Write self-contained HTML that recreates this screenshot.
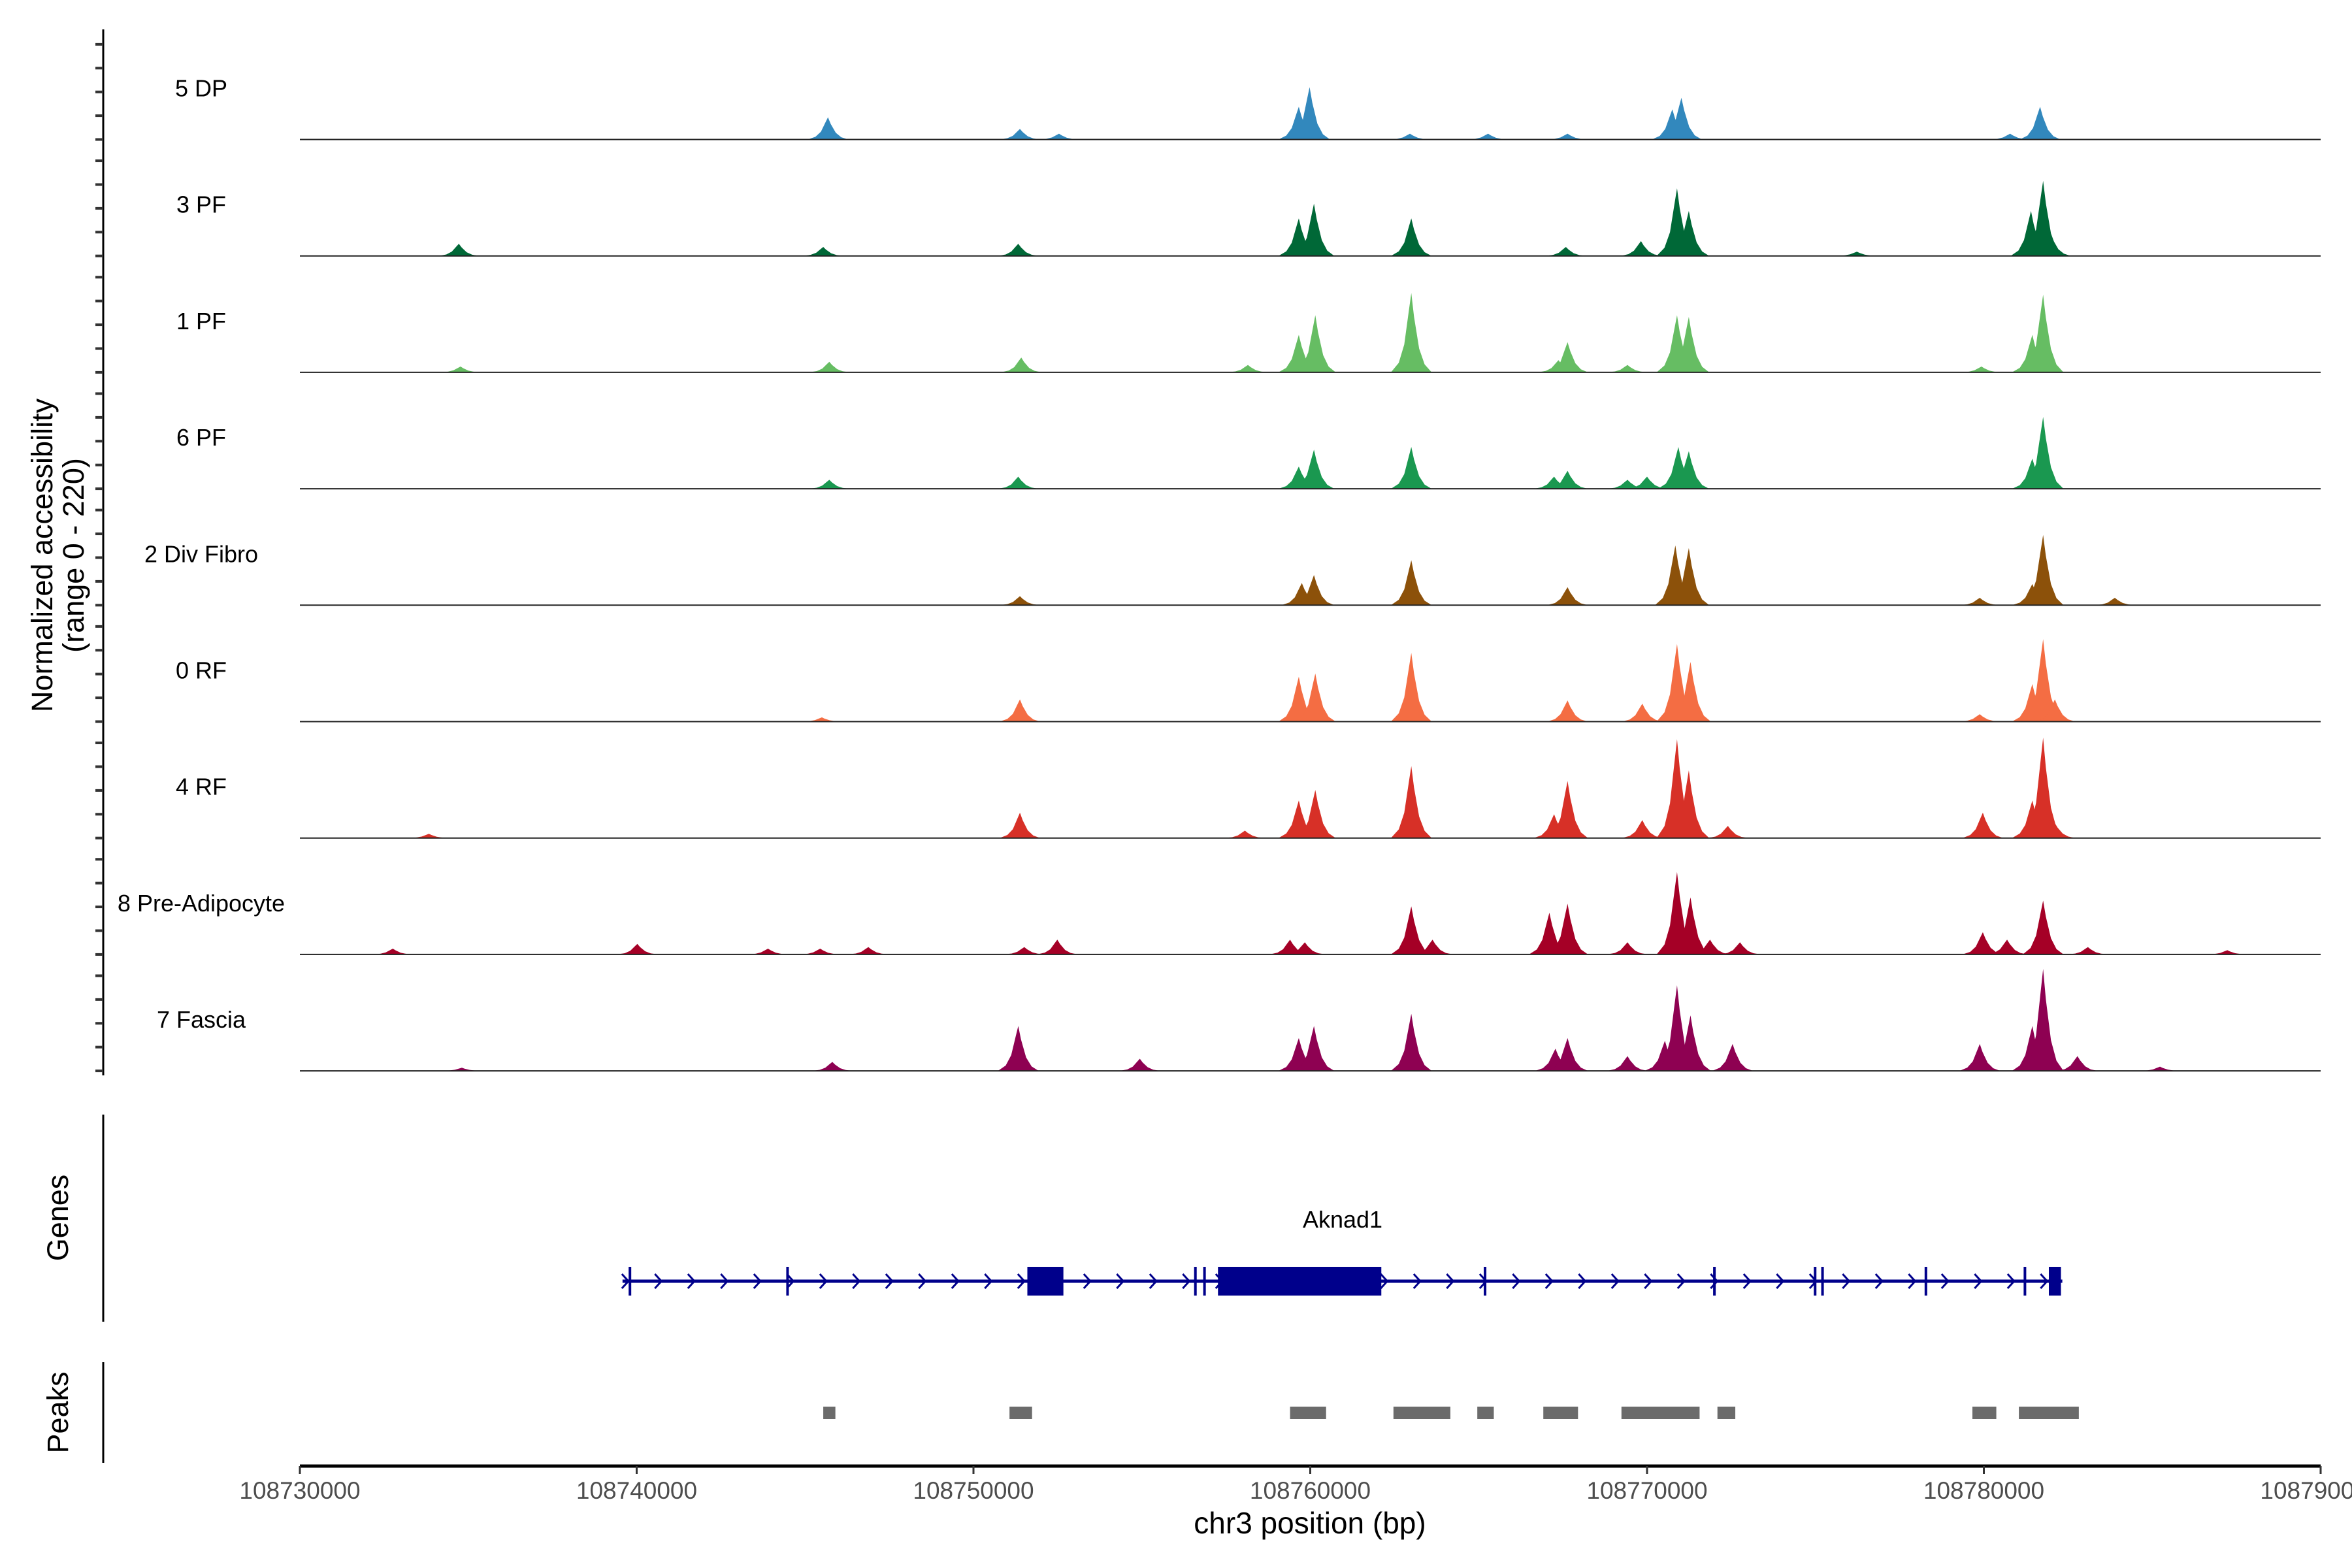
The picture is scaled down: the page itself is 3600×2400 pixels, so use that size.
<!DOCTYPE html>
<html><head><meta charset="utf-8">
<style>
html,body{margin:0;padding:0;background:#fff;}
svg{display:block;font-family:"Liberation Sans",Arial,sans-serif;}
</style></head>
<body>
<svg id="chart" width="3600" height="2400" viewBox="0 0 3600 2400" xmlns="http://www.w3.org/2000/svg"></svg>
<script>
// region offsets in kb relative to 108730000
const regionStartBp = 108730000;
const regionEndBp = 108790000;
const xTickValues = [108730000,108740000,108750000,108760000,108770000,108780000,108790000];
const yTickValues = [0,45,90,135,180];
const trackNames = ["5 DP","3 PF","1 PF","6 PF","2 Div Fibro","0 RF","4 RF","8 Pre-Adipocyte","7 Fascia"];
const trackColors = ["#3288bd","#006837","#66bd63","#1a9850","#8c510a","#f46d43","#d73027","#a50026","#8e0152"];
const peaksDP = [[15.68,42],[21.38,20],[22.54,11],[29.66,62],[29.98,99],[32.96,11],[35.28,11],[37.64,11],[40.75,57],[41.02,79],[50.78,11],[51.67,62]];
const peaks3PF = [[4.72,23],[15.54,17],[21.33,23],[29.66,71],[30.11,99],[33.0,71],[37.59,17],[39.82,28],[40.89,128],[41.24,85],[46.23,8],[51.4,85],[51.76,142],[51.98,42]];
const peaks1PF = [[4.77,11],[15.72,20],[21.42,28],[28.15,14],[29.66,71],[30.15,108],[33.0,150],[37.37,23],[37.64,57],[39.42,14],[40.89,108],[41.24,105],[49.93,11],[51.44,71],[51.76,147]];
const peaks6PF = [[15.72,17],[21.33,23],[29.66,42],[30.11,74],[33.0,79],[37.24,23],[37.64,34],[39.42,17],[40.0,23],[40.93,79],[41.24,71],[51.44,57],[51.76,136]];
const peaksDiv = [[21.38,17],[29.75,42],[30.11,57],[33.0,85],[37.64,34],[40.84,113],[41.24,108],[49.88,14],[51.44,40],[51.76,133],[53.89,14]];
const peaks0RF = [[15.5,8],[21.38,42],[29.66,85],[30.15,91],[33.0,130],[37.64,40],[39.86,34],[40.89,147],[41.29,113],[49.88,14],[51.44,71],[51.76,156],[52.11,42]];
const peaks4RF = [[3.83,8],[21.38,48],[28.06,14],[29.66,71],[30.15,91],[33.0,136],[37.24,45],[37.64,108],[39.86,34],[40.89,187],[41.24,128],[42.4,23],[49.97,48],[51.44,71],[51.76,190],[52.11,28]];
const peaksPre = [[2.76,11],[10.02,20],[13.9,11],[15.45,11],[16.88,14],[21.51,14],[22.49,28],[29.4,28],[29.84,23],[33.0,91],[33.63,28],[37.1,79],[37.64,96],[39.42,23],[40.89,156],[41.29,108],[41.87,28],[42.76,23],[49.97,42],[50.69,28],[51.76,102],[53.09,14],[57.23,8]];
const peaksFas = [[4.81,6],[15.81,17],[21.33,85],[24.94,23],[29.66,62],[30.11,85],[33.0,108],[37.28,42],[37.64,62],[39.42,28],[40.53,57],[40.89,162],[41.29,105],[42.54,51],[49.88,51],[51.44,85],[51.76,193],[52.78,28],[55.23,8]];
const trackPeaks = [peaksDP,peaks3PF,peaks1PF,peaks6PF,peaksDiv,peaks0RF,peaks4RF,peaksPre,peaksFas];
const geneSpan = [9.58,52.33];
const geneThinExons = [9.80,14.48,26.59,26.86,35.19,42.0,44.99,45.21,48.28,51.22];
const geneThickExons = [[21.6,22.67],[27.26,32.11],[51.93,52.29]];
const peakRegions = [[15.54,15.9],[21.07,21.74],[29.4,30.47],[32.47,34.16],[34.96,35.45],[36.92,37.95],[39.24,41.56],[42.09,42.62],[49.66,50.37],[51.04,52.82]];

const NS="http://www.w3.org/2000/svg";
const svg=document.getElementById('chart');
const X0=459,X1=3552;
function xBp(bp){return X0+(bp-regionStartBp)/(regionEndBp-regionStartBp)*(X1-X0);}
function xKb(kb){return xBp(regionStartBp+kb*1000);}
const base0=213.5, trackStep=178.2, trackH=178;
function yVal(i,v){return base0+i*trackStep - v/220*trackH;}
function mk(tag,attrs,parent){const e=document.createElementNS(NS,tag);for(const k in attrs)e.setAttribute(k,attrs[k]);(parent||svg).appendChild(e);return e;}

// left axis
let ax=mk('line',{x1:158,y1:45,x2:158,y2:1646,stroke:'#000','stroke-width':3});


trackNames.forEach((nm,i)=>{
  yTickValues.forEach(v=>{
    const y=yVal(i,v);
    const t=mk('line',{x1:146,y1:y,x2:158,y2:y,stroke:'#333','stroke-width':4});
    
    
  });
});
let yt=mk('text',{transform:'translate(80,850) rotate(-90)','text-anchor':'middle','font-size':45,fill:'#000'});
yt.textContent='Normalized accessibility';


let yt2=mk('text',{transform:'translate(128,850) rotate(-90)','text-anchor':'middle','font-size':45,fill:'#000'});
yt2.textContent='(range 0 - 220)';



// tracks
trackNames.forEach((nm,i)=>{
  const g=mk('g',{});
  
  
  const by=base0+i*trackStep;
  trackPeaks[i].forEach(p=>{
    const c=xKb(p[0]), h=yVal(i,p[1]), H=by-h, w=12;
    const pts=[[c-w*2.6,by],[c-w*1.6,by-H*0.12],[c-w*0.9,by-H*0.35],[c-w*0.35,by-H*0.75],[c,h],[c+w*0.35,by-H*0.7],[c+w*1.0,by-H*0.3],[c+w*1.7,by-H*0.1],[c+w*2.6,by]];
    const pg=mk('polygon',{points:pts.map(q=>q.join(',')).join(' '),fill:trackColors[i]},g);
    
    
  });
  const bl=mk('line',{x1:X0,y1:by,x2:X1,y2:by,stroke:'#222','stroke-width':2},g);
  
  
  const lb=mk('text',{x:308,y:by-66,'text-anchor':'middle','font-size':36,fill:'#000'},g);
  lb.textContent=nm;
  
  
});

// genes panel
let ga=mk('line',{x1:158,y1:1706,x2:158,y2:2023,stroke:'#000','stroke-width':3});


let gt=mk('text',{transform:'translate(104,1864) rotate(-90)','text-anchor':'middle','font-size':45,fill:'#000'});
gt.textContent='Genes';


const GY=1961, gc='#00008b';
const gg=mk('g',{});


mk('line',{x1:xKb(geneSpan[0]),y1:GY,x2:xKb(geneSpan[1]),y2:GY,stroke:gc,'stroke-width':5},gg);
for(let x=xKb(geneSpan[0])+4;x<xKb(geneSpan[1]);x+=50.5){
  const ch=mk('polyline',{points:`${x-5},${GY-11} ${x+5},${GY} ${x-5},${GY+11}`,fill:'none',stroke:gc,'stroke-width':3},gg);
  
  
}
geneThinExons.forEach(e=>{
  const r=mk('rect',{x:xKb(e)-2,y:GY-22,width:4,height:44,fill:gc},gg);
  
  
});
geneThickExons.forEach(e=>{
  const r=mk('rect',{x:xKb(e[0]),y:GY-22,width:xKb(e[1])-xKb(e[0]),height:44,fill:gc},gg);
  
  
});
let gl=mk('text',{x:2055,y:1879,'text-anchor':'middle','font-size':36,fill:'#000'});
gl.textContent='Aknad1';



// peaks panel
let pa=mk('line',{x1:158,y1:2085,x2:158,y2:2239,stroke:'#000','stroke-width':3});


let pt=mk('text',{transform:'translate(104,2162) rotate(-90)','text-anchor':'middle','font-size':45,fill:'#000'});
pt.textContent='Peaks';


peakRegions.forEach(p=>{
  const r=mk('rect',{x:xKb(p[0]),y:2153,width:xKb(p[1])-xKb(p[0]),height:19,fill:'#6b6b6b'});
  
  
});

// x axis
let xa=mk('line',{x1:X0,y1:2244,x2:X1,y2:2244,stroke:'#000','stroke-width':5});


xTickValues.forEach(v=>{
  const x=xBp(v);
  const t=mk('line',{x1:x,y1:2244,x2:x,y2:2256,stroke:'#333','stroke-width':3});
  
  
  const l=mk('text',{x:x,y:2294,'text-anchor':'middle','font-size':37,fill:'#4d4d4d'});
  l.textContent=String(v);
  
  
});
let xt=mk('text',{x:2005,y:2347,'text-anchor':'middle','font-size':46,fill:'#000'});
xt.textContent='chr3 position (bp)';


</script>
</body></html>
